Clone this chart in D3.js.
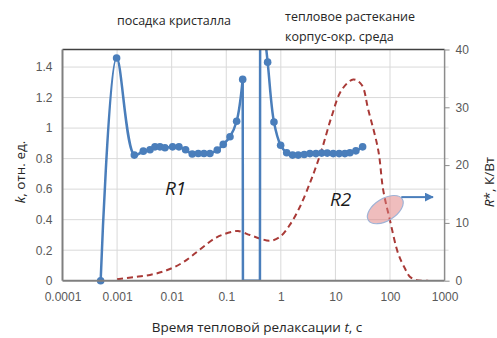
<!DOCTYPE html>
<html>
<head>
<meta charset="utf-8">
<script src="https://cdn.jsdelivr.net/npm/d3@7"></script>
<style>
  body { margin: 0; background: #fff; }
  svg { display: block; font-family: 'Open Sans', 'Noto Sans', sans-serif; }
</style>
</head>
<body>
<svg id="chart" width="497" height="338"></svg>
<script>
// time (s) and k values for the blue series
const kTimes = [0.0005, 0.00098, 0.00207, 0.00302, 0.00401, 0.00494, 0.0061, 0.00753, 0.0104, 0.0136,
  0.018, 0.0238, 0.0307, 0.0391, 0.0502, 0.0684, 0.0881, 0.117, 0.155, 0.2,
  0.202, 0.414, 0.418,
  0.573, 0.748, 0.991, 1.28, 1.64, 2.08, 2.68, 3.41, 4.39, 5.59, 7.08, 9.12, 11.7, 14.9, 18.4, 23.7, 31.5]
const kValues = [0, 1.459, 0.823, 0.849, 0.858, 0.877, 0.877, 0.871, 0.877, 0.877,
  0.858, 0.83, 0.834, 0.834, 0.834, 0.856, 0.893, 0.943, 1.045, 1.319,
  0, 0, 1.9,
  1.432, 1.04, 0.888, 0.838, 0.823, 0.823, 0.827, 0.833, 0.833, 0.836, 0.836, 0.833, 0.833, 0.833, 0.838, 0.851, 0.877]

// thermal resistance R* (K/W), red dashed
const rTimes = [0.001, 0.00198, 0.004, 0.0081, 0.0163, 0.033, 0.0667, 0.134, 0.164, 0.272, 0.414, 0.631, 0.964,
  1.47, 2.24, 3.41, 4.21, 5.59, 8.51, 13.0, 21.2, 30.2, 39.9, 60.8, 75.0, 99.5, 141, 188, 231, 307, 501]
const rValues = [0.24, 0.6, 1.0, 1.8, 3.2, 5.4, 7.5, 8.5, 8.6, 7.9, 7.3, 6.9, 7.6,
  9.7, 12.8, 16.9, 19.2, 22.6, 28.4, 33.0, 34.8, 33.9, 29.6, 22.6, 15.7, 10.5, 4.7, 2.1, 0.7, 0.1, 0]

const xTicks = [0.0001, 0.001, 0.01, 0.1, 1, 10, 100, 1000]
const xTickLabels = ['0.0001', '0.001', '0.01', '0.1', '1', '10', '100', '1000']
const kTicks = [0, 0.2, 0.4, 0.6, 0.8, 1, 1.2, 1.4]
const rTicks = [0, 10, 20, 30, 40]

const margin = { top: 49.5, right: 52.4, bottom: 57.3, left: 62.5 }
const width = 497
const height = 338
const kMax = 1.515

const svg = d3.select('#chart')

const x = d3.scaleLog()
  .domain([0.0001, 1000])
  .range([margin.left, width - margin.right])
const yK = d3.scaleLinear()
  .domain([0, kMax])
  .range([height - margin.bottom, margin.top])
const yR = d3.scaleLinear()
  .domain([0, 40])
  .range([height - margin.bottom, margin.top])

svg.append('clipPath').attr('id', 'plotClip')
  .append('rect')
  .attr('x', margin.left)
  .attr('y', margin.top)
  .attr('width', width - margin.left - margin.right)
  .attr('height', height - margin.top - margin.bottom)

// gridlines
svg.append('g')
  .selectAll('line')
  .data(kTicks.slice(1))
  .join('line')
  .attr('x1', margin.left)
  .attr('x2', width - margin.right + 4)
  .attr('y1', d => yK(d))
  .attr('y2', d => yK(d))
  .attr('stroke', '#d9d9d9')
  .attr('stroke-width', 1)

svg.append('g')
  .selectAll('line')
  .data(xTicks.slice(1, -1))
  .join('line')
  .attr('x1', d => x(d))
  .attr('x2', d => x(d))
  .attr('y1', margin.top)
  .attr('y2', height - margin.bottom)
  .attr('stroke', '#d9d9d9')
  .attr('stroke-width', 1)

// red dashed R* curve
const rData = rTimes.map((t, i) => ({ t, v: rValues[i] }))
svg.append('path')
  .datum(rData)
  .attr('clip-path', 'url(#plotClip)')
  .attr('fill', 'none')
  .attr('stroke', '#a93a37')
  .attr('stroke-width', 2)
  .attr('stroke-dasharray', '6,4')
  .attr('d', d3.line()
    .x(d => x(d.t))
    .y(d => yR(d.v))
    .curve(d3.curveCatmullRom.alpha(0.5)))

// blue k curve: smooth branches, straight drop/rise between them
const kData = kTimes.map((t, i) => ({ t, v: kValues[i] }))
const breaks = kData.map((d, i) => (i > 0 && d.v === 0 ? i : -1)).filter(i => i >= 0)
const firstBreak = d3.min(breaks)
const lastBreak = d3.max(breaks)
const kParts = [
  { pts: kData.slice(0, firstBreak), curve: d3.curveCatmullRom.alpha(0.5) },
  { pts: kData.slice(firstBreak - 1, lastBreak + 2), curve: d3.curveLinear },
  { pts: kData.slice(lastBreak + 1), curve: d3.curveCatmullRom.alpha(0.5) }
]
svg.append('g')
  .attr('clip-path', 'url(#plotClip)')
  .selectAll('path')
  .data(kParts)
  .join('path')
  .attr('fill', 'none')
  .attr('stroke', '#4a7ebb')
  .attr('stroke-width', 2.5)
  .attr('stroke-linejoin', 'round')
  .attr('d', p => d3.line()
    .x(d => x(d.t))
    .y(d => yK(d.v))
    .curve(p.curve)(p.pts))

svg.append('g')
  .selectAll('circle')
  .data(kData.filter((d, i) => d.v <= kMax && (d.v > 0 || i === 0)))
  .join('circle')
  .attr('cx', d => x(d.t))
  .attr('cy', d => yK(d.v))
  .attr('r', 3.8)
  .attr('fill', '#4a7ebb')

// plot frame
svg.append('line')
  .attr('x1', margin.left).attr('x2', width - margin.right)
  .attr('y1', margin.top).attr('y2', margin.top)
  .attr('stroke', '#404040').attr('stroke-width', 1.5)
svg.append('line')
  .attr('x1', margin.left).attr('x2', margin.left)
  .attr('y1', margin.top).attr('y2', height - margin.bottom)
  .attr('stroke', '#7f7f7f').attr('stroke-width', 2)
svg.append('line')
  .attr('x1', width - margin.right).attr('x2', width - margin.right)
  .attr('y1', margin.top).attr('y2', height - margin.bottom)
  .attr('stroke', '#8c8c8c').attr('stroke-width', 1.5)
svg.append('line')
  .attr('x1', margin.left).attr('x2', width - margin.right)
  .attr('y1', height - margin.bottom).attr('y2', height - margin.bottom)
  .attr('stroke', '#7f7f7f').attr('stroke-width', 2)

// axes
const xAxis = d3.axisBottom(x)
  .tickValues(xTicks)
  .tickFormat((d, i) => xTickLabels[i])
  .tickSize(0)
  .tickPadding(12)
const gx = svg.append('g')
  .attr('transform', `translate(0,${height - margin.bottom})`)
  .call(xAxis)
gx.select('.domain').remove()

const gk = svg.append('g')
  .attr('transform', `translate(${margin.left},0)`)
  .call(d3.axisLeft(yK).tickValues(kTicks).tickFormat(d3.format('~g')).tickSize(0).tickPadding(10))
gk.select('.domain').remove()

const gr = svg.append('g')
  .attr('transform', `translate(${width - margin.right},0)`)
  .call(d3.axisRight(yR).tickValues(rTicks).tickSize(5).tickPadding(6))
gr.select('.domain').remove()
gr.selectAll('.tick line').attr('stroke', '#8c8c8c')

svg.selectAll('.tick text')
  .attr('fill', '#595959')
  .style('font-size', '12px')

// axis titles
svg.append('text')
  .attr('x', 257)
  .attr('y', 332)
  .attr('text-anchor', 'middle')
  .attr('fill', '#262626')
  .style('font-size', '13.5px')
  .html('Время тепловой релаксации <tspan font-style="italic">t</tspan>, с')

svg.append('text')
  .attr('transform', 'translate(25,172) rotate(-90)')
  .attr('text-anchor', 'middle')
  .attr('fill', '#262626')
  .style('font-size', '13.5px')
  .html('<tspan font-style="italic">k</tspan>, отн. ед.')

svg.append('text')
  .attr('transform', 'translate(494,182) rotate(-90)')
  .attr('text-anchor', 'middle')
  .attr('fill', '#262626')
  .style('font-size', '13.5px')
  .html('<tspan font-style="italic">R</tspan>*, К/Вт')

// region labels
svg.append('text')
  .attr('x', 174)
  .attr('y', 25)
  .attr('text-anchor', 'middle')
  .attr('fill', '#262626')
  .style('font-size', '12.5px')
  .text('посадка кристалла')

svg.append('text')
  .attr('x', 285)
  .attr('y', 21)
  .attr('fill', '#262626')
  .style('font-size', '12.5px')
  .text('тепловое растекание')
svg.append('text')
  .attr('x', 285)
  .attr('y', 41)
  .attr('fill', '#262626')
  .style('font-size', '12.5px')
  .text('корпус-окр. среда')

svg.append('text')
  .attr('x', 165)
  .attr('y', 195)
  .attr('fill', '#1a1a1a')
  .style('font-size', '19px')
  .style('font-style', 'italic')
  .text('R1')
svg.append('text')
  .attr('x', 330)
  .attr('y', 206)
  .attr('fill', '#1a1a1a')
  .style('font-size', '19px')
  .style('font-style', 'italic')
  .text('R2')

// highlight ellipse and arrow pointing at the right axis
const ex = x(82)
const ey = yR(12.3)
svg.append('ellipse')
  .attr('cx', ex)
  .attr('cy', ey)
  .attr('rx', 20)
  .attr('ry', 11)
  .attr('transform', `rotate(-32,${ex},${ey})`)
  .attr('fill', '#e07b7b')
  .attr('fill-opacity', 0.5)
  .attr('stroke', '#9fb3d6')
  .attr('stroke-width', 1.2)

svg.append('defs').append('marker')
  .attr('id', 'arrow')
  .attr('viewBox', '0 0 10 10')
  .attr('refX', 9)
  .attr('refY', 5)
  .attr('markerWidth', 4.5)
  .attr('markerHeight', 4.5)
  .attr('orient', 'auto')
  .append('path')
  .attr('d', 'M0,0 L10,5 L0,10 Z')
  .attr('fill', '#4a7ebb')

svg.append('line')
  .attr('x1', ex + 16)
  .attr('y1', ey - 12.5)
  .attr('x2', 433)
  .attr('y2', ey - 12.5)
  .attr('stroke', '#4a7ebb')
  .attr('stroke-width', 2)
  .attr('marker-end', 'url(#arrow)')
</script>
</body>
</html>
